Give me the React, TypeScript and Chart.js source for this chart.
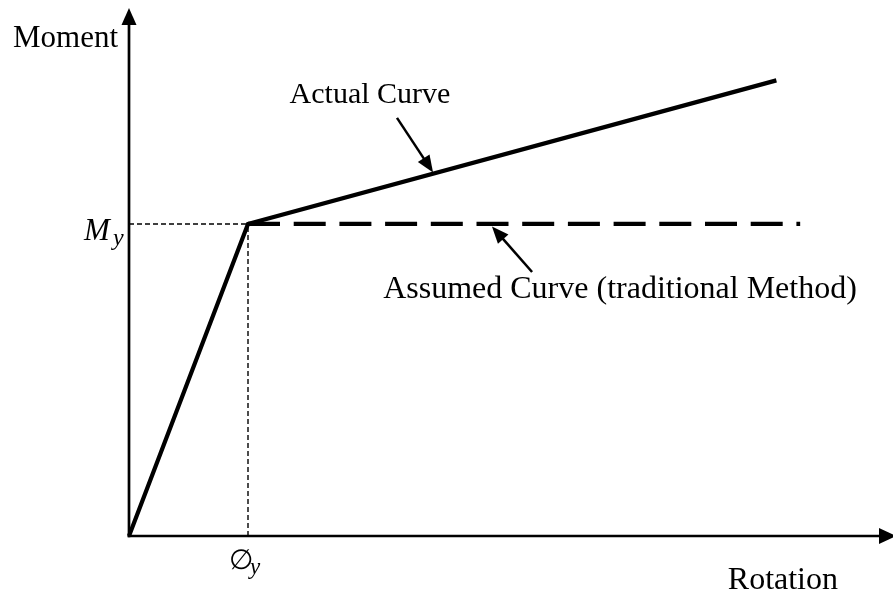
import { useEffect, useRef } from "react";
import { Chart, registerables } from "chart.js";

Chart.register(...registerables);

// Data (rotation normalised by yield rotation, moment by yield moment)
const actualRotation = [0, 1, 5.44];
const actualMoment = [0, 1, 1.46];
const assumedRotation = [1, 5.64];
const assumedMoment = [1, 1];
const yieldRotation = 1;
const yieldMoment = 1;
const rotationMax = 6.42;
const momentMax = 1.692;

// Text labels
const yAxisTitle = "Moment";
const xAxisTitle = "Rotation";
const actualLabel = "Actual Curve";
const assumedLabel = "Assumed Curve (traditional Method)";
const yieldMomentLabel = ["M", "y"];
const yieldRotationLabel = ["\u2205", "y"];

// Annotation anchors (data coordinates)
const actualLabelAt = [2.025, 1.388];
const actualArrowTail = [2.252, 1.34];
const actualArrowTip = [2.555, 1.165];
const assumedLabelAt = [4.126, 0.763];
const assumedArrowTail = [3.387, 0.846];
const assumedArrowTip = [3.05, 0.992];

const SERIF = "'Liberation Serif', 'Times New Roman', 'DejaVu Serif', serif";

function arrowHead(ctx: CanvasRenderingContext2D, tx: number, ty: number, fx: number, fy: number, len: number, half: number) {
  const a = Math.atan2(ty - fy, tx - fx);
  const bx = tx - len * Math.cos(a);
  const by = ty - len * Math.sin(a);
  ctx.beginPath();
  ctx.moveTo(tx, ty);
  ctx.lineTo(bx + half * Math.sin(a), by - half * Math.cos(a));
  ctx.lineTo(bx - half * Math.sin(a), by + half * Math.cos(a));
  ctx.closePath();
  ctx.fill();
}

function arrow(ctx: CanvasRenderingContext2D, fx: number, fy: number, tx: number, ty: number, width: number, len: number, half: number) {
  const a = Math.atan2(ty - fy, tx - fx);
  ctx.lineWidth = width;
  ctx.beginPath();
  ctx.moveTo(fx, fy);
  ctx.lineTo(tx - (len - 1) * Math.cos(a), ty - (len - 1) * Math.sin(a));
  ctx.stroke();
  arrowHead(ctx, tx, ty, fx, fy, len, half);
}

const axesPlugin = {
  id: "axesArrows",
  beforeDatasetsDraw(chart: any) {
    const { ctx, scales } = chart;
    const xs = scales.x;
    const ys = scales.y;
    const x0 = xs.getPixelForValue(0);
    const y0 = ys.getPixelForValue(0);
    const xEnd = xs.getPixelForValue(rotationMax);
    const yEnd = ys.getPixelForValue(momentMax);
    ctx.save();
    ctx.strokeStyle = "#000";
    ctx.fillStyle = "#000";
    ctx.lineCap = "butt";
    arrow(ctx, x0, y0 + 1.3, x0, yEnd, 2.7, 17, 7.5);
    arrow(ctx, x0 - 1.3, y0, xEnd + 3, y0, 2.7, 17, 8);
    ctx.restore();
  },
  afterDatasetsDraw(chart: any) {
    const { ctx, scales } = chart;
    const xs = scales.x;
    const ys = scales.y;
    const px = (v: number) => xs.getPixelForValue(v);
    const py = (v: number) => ys.getPixelForValue(v);
    const x0 = px(0);
    const y0 = py(0);
    const xEnd = px(rotationMax);
    const yEnd = py(momentMax);
    ctx.save();
    ctx.fillStyle = "#000";
    ctx.strokeStyle = "#000";

    // annotation arrows
    arrow(ctx, px(actualArrowTail[0]), py(actualArrowTail[1]), px(actualArrowTip[0]), py(actualArrowTip[1]), 2.5, 17, 7);
    arrow(ctx, px(assumedArrowTail[0]), py(assumedArrowTail[1]), px(assumedArrowTip[0]), py(assumedArrowTip[1]), 2.5, 17, 7);

    // text
    ctx.textBaseline = "alphabetic";
    ctx.textAlign = "center";
    ctx.font = `30px ${SERIF}`;
    ctx.fillText(actualLabel, px(actualLabelAt[0]), py(actualLabelAt[1]));
    ctx.font = `32px ${SERIF}`;
    ctx.fillText(assumedLabel, px(assumedLabelAt[0]), py(assumedLabelAt[1]));
    ctx.textAlign = "right";
    ctx.font = `31px ${SERIF}`;
    ctx.fillText(yAxisTitle, x0 - 11, yEnd + 39);
    ctx.font = `32px ${SERIF}`;
    ctx.fillText(xAxisTitle, xEnd - 55, y0 + 53);

    // M_y
    const ym = py(yieldMoment);
    ctx.textAlign = "left";
    ctx.font = `italic 31px ${SERIF}`;
    ctx.fillText(yieldMomentLabel[0], x0 - 45, ym + 16);
    ctx.font = `italic 24px ${SERIF}`;
    ctx.fillText(yieldMomentLabel[1], x0 - 16, ym + 21);

    // phi_y
    const xr = px(yieldRotation);
    ctx.font = `28px ${SERIF}`;
    ctx.fillText(yieldRotationLabel[0], xr - 19, y0 + 33);
    ctx.font = `italic 23px ${SERIF}`;
    ctx.fillText(yieldRotationLabel[1], xr + 2, y0 + 38);
    ctx.restore();
  },
};

export default function App() {
  const ref = useRef<HTMLCanvasElement | null>(null);
  useEffect(() => {
    if (!ref.current) return;
    const toPts = (xs: number[], ys: number[]) => xs.map((v, i) => ({ x: v, y: ys[i] }));
    const chart = new Chart(ref.current, {
      type: "scatter",
      data: {
        datasets: [
          {
            label: "Guide M_y",
            data: [{ x: 0, y: yieldMoment }, { x: yieldRotation, y: yieldMoment }],
            showLine: true,
            borderColor: "#000",
            borderWidth: 1.4,
            borderDash: [5, 3],
            pointRadius: 0,
          },
          {
            label: "Guide phi_y",
            data: [{ x: yieldRotation, y: 0 }, { x: yieldRotation, y: yieldMoment }],
            showLine: true,
            borderColor: "#000",
            borderWidth: 1.4,
            borderDash: [5, 3],
            pointRadius: 0,
          },
          {
            label: "Assumed Curve",
            data: toPts(assumedRotation, assumedMoment),
            showLine: true,
            borderColor: "#000",
            borderWidth: 4.2,
            borderDash: [32, 13.7],
            borderCapStyle: "butt",
            pointRadius: 0,
          },
          {
            label: "Actual Curve",
            data: toPts(actualRotation, actualMoment),
            showLine: true,
            borderColor: "#000",
            borderWidth: 4.2,
            borderJoinStyle: "miter",
            pointRadius: 0,
          },
        ],
      },
      options: {
        responsive: false,
        animation: false,
        devicePixelRatio: 1,
        clip: false as any,
        layout: { padding: { left: 129, right: 0, top: 8, bottom: 61 } },
        plugins: { legend: { display: false }, tooltip: { enabled: false } },
        scales: {
          x: { type: "linear", min: 0, max: rotationMax, display: false },
          y: { type: "linear", min: 0, max: momentMax, display: false },
        },
      },
      plugins: [axesPlugin],
    });
    return () => chart.destroy();
  }, []);
  return (
    <div style={{ position: "absolute", left: 0, top: 0, width: 893, height: 597, background: "#fff" }}>
      <canvas ref={ref} width={893} height={597} style={{ display: "block" }} />
    </div>
  );
}
